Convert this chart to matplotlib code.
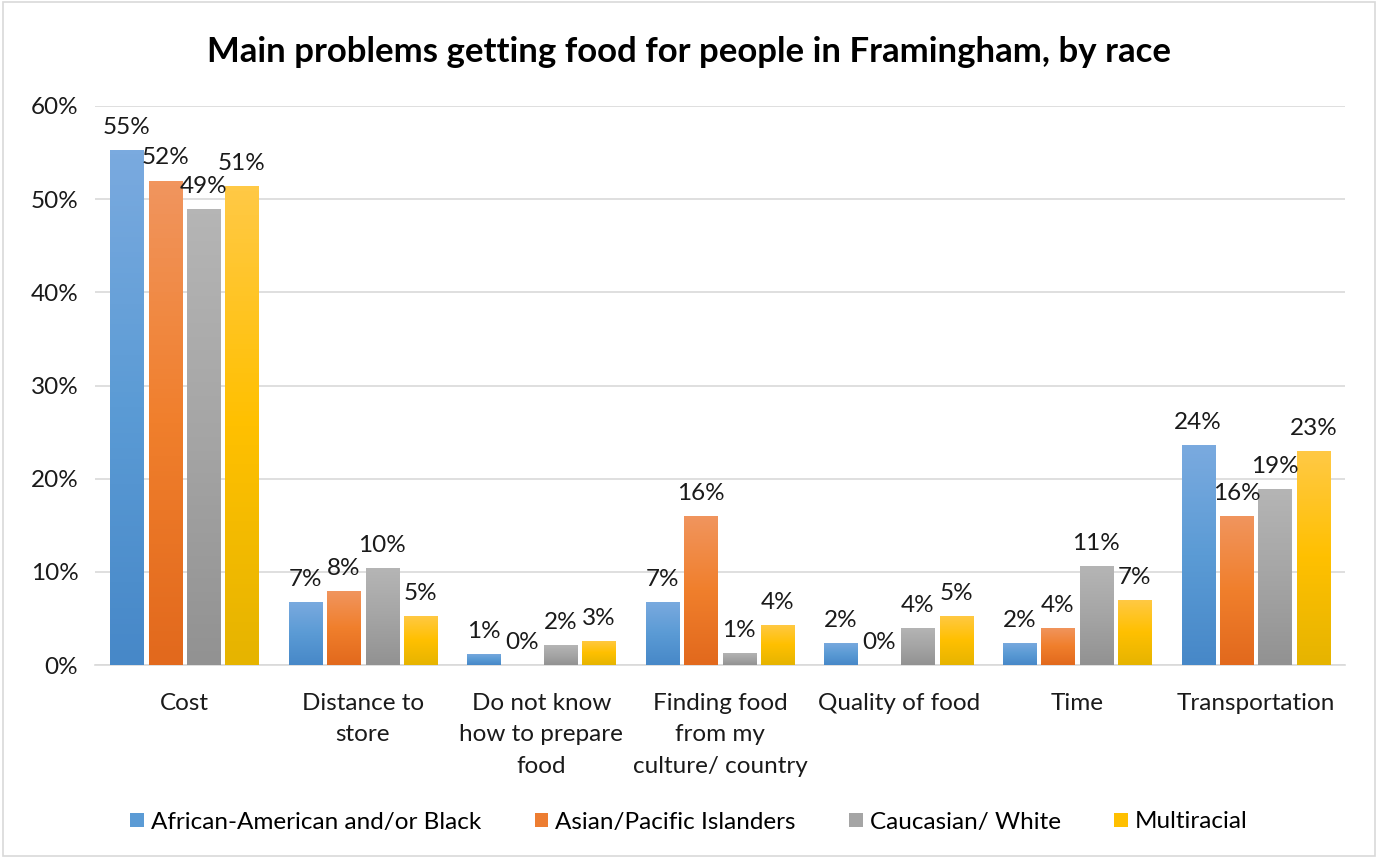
import numpy as np
import matplotlib.pyplot as plt
from matplotlib.colors import LinearSegmentedColormap

plt.rcParams['font.family'] = ['Lato', 'DejaVu Sans']

categories = ['Cost', 'Distance to\nstore', 'Do not know\nhow to prepare\nfood',
              'Finding food\nfrom my\nculture/ country', 'Quality of food', 'Time',
              'Transportation']
series = ['African-American and/or Black', 'Asian/Pacific Islanders',
          'Caucasian/ White', 'Multiracial']
black = [55.3, 6.8, 1.2, 6.8, 2.4, 2.4, 23.6]
asian = [52.0, 7.9, 0.0, 16.0, 0.0, 4.0, 16.0]
white = [48.9, 10.4, 2.1, 1.3, 4.0, 10.6, 18.9]
multi = [51.4, 5.3, 2.6, 4.3, 5.3, 7.0, 23.0]
values = [black, asian, white, multi]

# gradient colours (top, middle, bottom) like the excel fill
grads = [('#7AAADF', '#5B9BD5', '#4788C8'),
         ('#F1955E', '#F07F2C', '#E2691D'),
         ('#B5B5B5', '#A5A5A5', '#929292'),
         ('#FFC945', '#FFC000', '#E6B400')]
flat = ['#5B9BD5', '#ED7D31', '#A5A5A5', '#FFC000']

fig = plt.figure(figsize=(13.78, 8.58), dpi=100)
ax = fig.add_axes([95 / 1378, 1 - 665 / 858, 1250 / 1378, 559 / 858])

fs = 17.5
x = np.arange(len(categories))
w = 0.185
step = 0.215
for i, vals in enumerate(values):
    pos = x + (i - 1.5) * step
    bars = ax.bar(pos, vals, width=w, color=flat[i], label=series[i], zorder=2)
    cmap = LinearSegmentedColormap.from_list('g%d' % i, [grads[i][2], grads[i][1], grads[i][0]])
    for b, v in zip(bars, vals):
        if v > 0:
            grad = np.linspace(0, 1, 100).reshape(-1, 1)
            im = ax.imshow(grad, cmap=cmap, origin='lower', aspect='auto', zorder=3,
                           extent=[b.get_x(), b.get_x() + b.get_width(), 0, v])
            im.set_clip_path(b)
        ax.text(b.get_x() + b.get_width() / 2, v + 1.3, '%d%%' % round(v),
                ha='center', va='bottom', fontsize=fs, color='#1a1a1a', zorder=4)

ax.set_xlim(-0.5, len(categories) - 0.5)
ax.set_ylim(0, 60)
ax.set_yticks(np.arange(0, 61, 10))
ax.set_yticklabels(['%d%%' % t for t in range(0, 61, 10)], fontsize=fs, color='#1a1a1a')
ax.set_xticks(x)
ax.set_xticklabels(categories, fontsize=fs, color='#1a1a1a', linespacing=1.62, va='top')
ax.tick_params(axis='both', length=0)
ax.tick_params(axis='x', pad=20)
ax.tick_params(axis='y', pad=12)
ax.grid(axis='y', color='#D9D9D9', linewidth=1.2, zorder=0)
for s in ['top', 'right', 'left']:
    ax.spines[s].set_visible(False)
ax.spines['bottom'].set_color('#D9D9D9')
ax.spines['bottom'].set_linewidth(1.2)

fig.suptitle('Main problems getting food for people in Framingham, by race',
             fontsize=25, fontweight='bold', color='black', x=0.5, y=1 - 52 / 858, va='center')

fig.legend(loc='center', bbox_to_anchor=(0.5, 1 - 822 / 858), ncol=4, frameon=False,
           fontsize=fs, handlelength=0.55, handleheight=0.55, handletextpad=0.3,
           columnspacing=2.2)

fig.patches.append(plt.Rectangle((0.002, 0.002), 0.996, 0.996, transform=fig.transFigure,
                                 fill=False, edgecolor='#D9D9D9', linewidth=1.2))

fig.savefig('out.png', dpi=100)
